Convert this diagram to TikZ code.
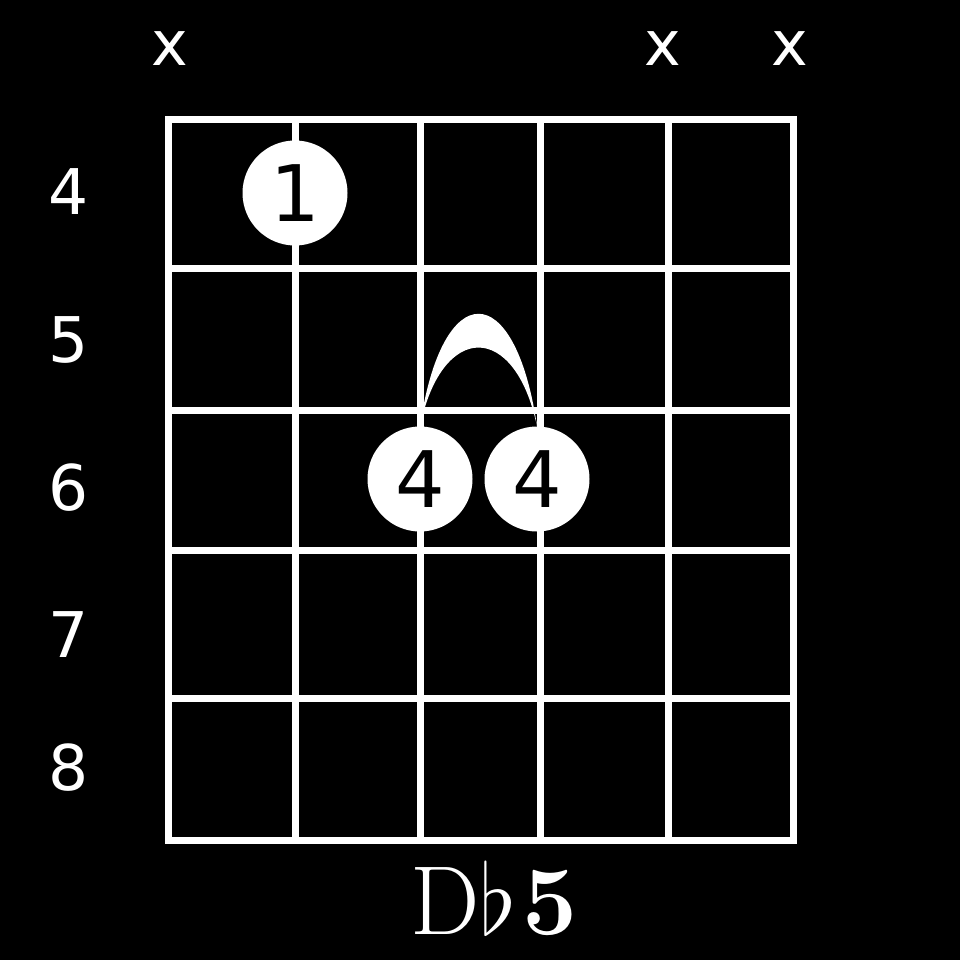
\RequirePackage{fix-cm}
\documentclass[tikz,border=0pt]{standalone}
\usepackage{fontspec}
\newfontfamily\dejavu{DejaVu Sans}
\begin{document}
\begin{tikzpicture}[x=1pt,y=-1pt,
  fingerdot/.style={circle,fill=white,text=black,inner sep=0pt,minimum size=105pt,
    font=\dejavu\fontsize{78}{78}\selectfont},
  fretnum/.style={text=white,inner sep=0pt,font=\dejavu\fontsize{63}{63}\selectfont},
  mutemark/.style={text=white,inner sep=0pt,font=\dejavu\fontsize{62}{62}\selectfont}]
  \fill[black] (0,0) rectangle (960,960);
  % grid
  \foreach \x in {168,295,420,540,668,793}
     \draw[white,line width=7pt] (\x,120) -- (\x,840);
  \foreach \y in {120,268,410,550,698,840}
     \draw[white,line width=7pt,line cap=rect] (168,\y) -- (793,\y);
  % fret numbers and muted strings
  \foreach \n/\y in {4/192,5/340,6/488,7/635,8/768}
     \node[fretnum] (fr\n) at (69,\y) {\n};
  \foreach \s/\x in {1/170,5/663,6/790}
     \node[mutemark] (mx\s) at (\x,49) {x};
  % fingers
  \node[fingerdot] (fa) at (295,193) {1};
  \node[fingerdot] (fb) at (420,479) {4};
  \node[fingerdot] (fc) at (537,479) {4};
  % barre
  \fill[white] (fb.north) .. controls +(22,-150) and +(-22,-150) .. (fc.north)
     .. controls +(-22,-105) and +(22,-105) .. (fb.north) -- cycle;
  \node[text=white,inner sep=0pt,font=\fontsize{98}{98}\selectfont] (name) at (494,898)
     {D$\flat$\kern6pt\textbf{5}};
\end{tikzpicture}
\end{document}
